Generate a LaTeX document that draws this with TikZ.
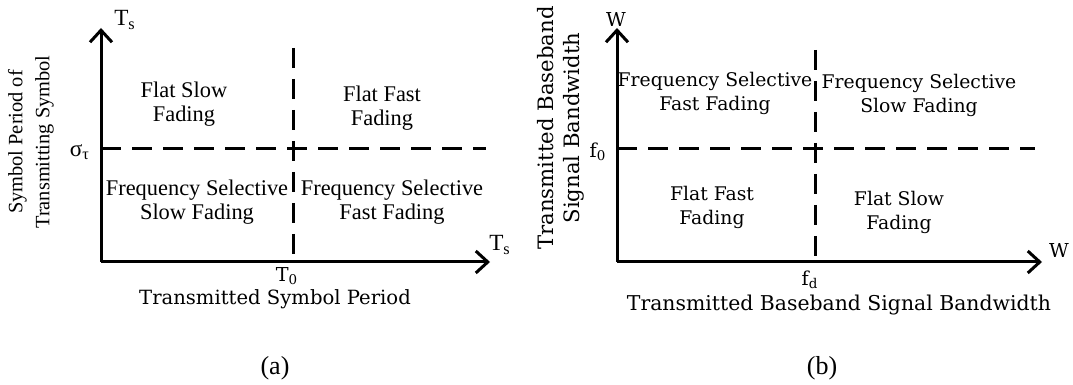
\documentclass[tikz,border=0pt]{standalone}
\usepackage{fontspec}
\setmainfont{Liberation Serif}
\newfontfamily\cmb{DejaVu Serif}
\usetikzlibrary{arrows.meta}
\tikzset{
  axis/.style={
    line width=1.5pt,
    -{Straight Barb[length=6pt,width=11pt]}
  },
  split/.style={
    line width=1.5pt,
    dash pattern=on 10pt off 5.5pt
  },
  region/.style={
    align=center,
    inner sep=0pt,
    font=\fontsize{11.2}{12}\selectfont
  },
  cregion/.style={
    align=center,
    inner sep=0pt,
    font=\cmb\fontsize{9.4}{12}\selectfont
  },
  tick/.style={inner sep=0pt}
}
\def\tm#1{\fontsize{11.6}{12}\selectfont #1}
\def\cm#1{\cmb\fontsize{9.6}{12}\selectfont #1}

\begin{document}
\begin{tikzpicture}[x=0.5pt, y=-0.5pt]
    \useasboundingbox (0,0) rectangle (1073,385);
    % (a) symbol period against delay spread
    \coordinate (oA) at (101,262);
    \coordinate (yA) at (101,28);
    \coordinate (xA) at (490,262);
    \coordinate (vAtop) at (293,48);
    \coordinate (vAbot) at (293,262);
    \coordinate (hAleft) at (101,149);
    \coordinate (hAright) at (486,149);
    \draw[split] (vAtop) -- (vAbot);
    \draw[split] (hAleft) -- (hAright);
    \draw[axis] (oA) -- (yA);
    \draw[axis] (oA) -- (xA);
    \node[tick] (tsA) at (125,20) {\tm{T\textsubscript{s}}};
    \node[tick] (tsB) at (500,245) {\tm{T\textsubscript{s}}};
    \node[tick] (sig) at (80,152) {\tm{σ\textsubscript{τ}}};
    \node[tick] (tz) at (287,276) {\cm{T\textsubscript{0}}};
    \node[region] (fsA) at (184,104) {Flat Slow\\Fading};
    \node[region] (ffA) at (382,108) {Flat Fast\\Fading};
    \node[region] (ssA) at (197,202) {Frequency Selective\\Slow Fading};
    \node[region] (sfA) at (392,202) {Frequency Selective\\Fast Fading};
    \node[cregion, font=\cmb\fontsize{9.8}{12}\selectfont] (xlA) at (275,299) {Transmitted Symbol Period};
    \node[region, rotate=90, font=\fontsize{10.2}{13.5}\selectfont] (ylA) at (31,142) {Symbol Period of\\Transmitting Symbol};
    \node[region, font=\fontsize{13}{14}\selectfont] (capA) at (275,368) {(a)};
    % (b) signal bandwidth against coherence bandwidth
    \coordinate (oB) at (617,262);
    \coordinate (yB) at (617,28);
    \coordinate (xB) at (1042,262);
    \coordinate (vBtop) at (815,50);
    \coordinate (vBbot) at (815,262);
    \coordinate (hBleft) at (617,149);
    \coordinate (hBright) at (1035,149);
    \draw[split] (vBtop) -- (vBbot);
    \draw[split] (hBleft) -- (hBright);
    \draw[axis] (oB) -- (yB);
    \draw[axis] (oB) -- (xB);
    \node[tick] (wA) at (616,20) {\cm{W}};
    \node[tick] (wB) at (1059,251) {\cm{W}};
    \node[tick] (fz) at (598,152) {\cm{f\textsubscript{0}}};
    \node[tick] (fd) at (810,280) {\cm{f\textsubscript{d}}};
    \node[cregion] (sfB) at (715,93) {Frequency Selective\\Fast Fading};
    \node[cregion] (ssB) at (919,95) {Frequency Selective\\Slow Fading};
    \node[cregion] (ffB) at (712,207) {Flat Fast\\Fading};
    \node[cregion] (fsB) at (899,212) {Flat Slow\\Fading};
    \node[cregion, font=\cmb\fontsize{10.2}{12}\selectfont] (xlB) at (839,305) {Transmitted Baseband Signal Bandwidth};
    \node[cregion, rotate=90, font=\cmb\fontsize{10.6}{13}\selectfont] (ylB) at (561,128) {Transmitted Baseband\\Signal Bandwidth};
    \node[region, font=\fontsize{13}{14}\selectfont] (capB) at (822,368) {(b)};
\end{tikzpicture}
\end{document}
